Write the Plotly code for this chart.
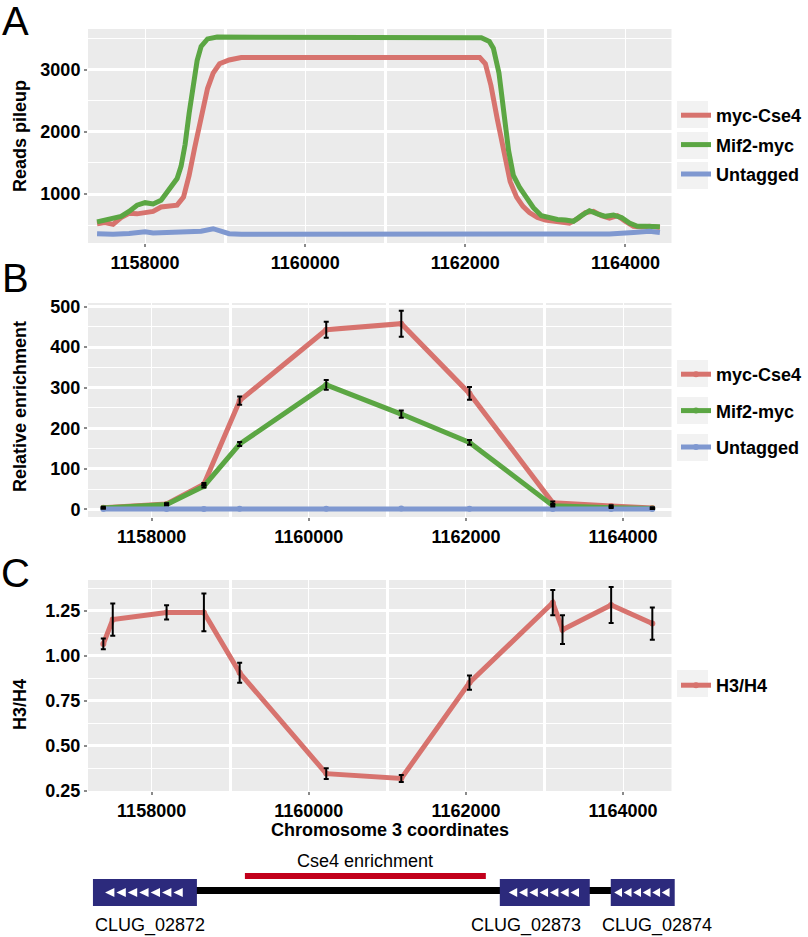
import plotly.graph_objects as go

# ---- panel A: reads pileup ----
a_red_x = [1157400, 1157500, 1157600, 1157700, 1157800, 1157900, 1158000, 1158100, 1158200, 1158300,
           1158400, 1158480, 1158550, 1158620, 1158700, 1158780, 1158850, 1158930, 1159050, 1159200,
           1160000, 1161000, 1161500, 1162000, 1162180, 1162250, 1162320, 1162400, 1162480, 1162560,
           1162640, 1162720, 1162800, 1162900, 1163000, 1163100, 1163200, 1163300, 1163400, 1163500,
           1163600, 1163700, 1163800, 1163900, 1164000, 1164100, 1164200, 1164300, 1164430]
a_red_y = [520, 540, 510, 620, 690, 680, 700, 720, 790, 810,
           820, 950, 1300, 1750, 2250, 2700, 2950, 3100, 3160, 3200,
           3200, 3200, 3195, 3200, 3200, 3100, 2750, 2200, 1650, 1200,
           950, 800, 700, 620, 580, 570, 540, 530, 600, 700,
           720, 650, 610, 650, 560, 480, 470, 480, 460]

a_green_x = [1157400, 1157500, 1157600, 1157700, 1157800, 1157900, 1158000, 1158100, 1158200, 1158300,
             1158400, 1158450, 1158500, 1158550, 1158600, 1158650, 1158700, 1158780, 1158900, 1159500,
             1160000, 1160500, 1161000, 1161500, 1162000, 1162200, 1162300, 1162350, 1162420, 1162480,
             1162540, 1162600, 1162680, 1162760, 1162850, 1162950, 1163050, 1163150, 1163250, 1163350,
             1163450, 1163550, 1163650, 1163750, 1163850, 1163950, 1164050, 1164150, 1164250, 1164350, 1164430]
a_green_y = [550, 580, 610, 640, 720, 820, 860, 840, 900, 1060,
             1250, 1450, 1800, 2300, 2800, 3150, 3380, 3500, 3530, 3530,
             3520, 3520, 3525, 3520, 3525, 3520, 3460, 3350, 2950, 2350,
             1700, 1300, 1100, 950, 780, 650, 610, 590, 580, 560,
             650, 730, 680, 640, 660, 620, 530, 480, 480, 470, 470]

a_blue_x = [1157400, 1157600, 1157800, 1158000, 1158100, 1158300, 1158500, 1158700, 1158850, 1158950,
            1159050, 1159200, 1160000, 1161000, 1161500, 1162000, 1162300, 1163000, 1163500, 1163800,
            1164100, 1164300, 1164430]
a_blue_y = [360, 350, 365, 390, 370, 380, 375, 400, 440, 410,
            360, 350, 350, 350, 355, 360, 355, 350, 365, 355,
            380, 400, 380]

# ---- panel B: relative enrichment ----
b_x = [1157385, 1158190, 1158665, 1159120, 1160222, 1161177, 1162045, 1163105, 1163848, 1164372]
b_cse4 = [4, 13, 62, 268, 443, 458, 286, 16, 8, 3]
b_cse4_err = [2, 2, 3, 10, 20, 32, 16, 3, 2, 2]
b_mif2 = [3, 12, 57, 161, 307, 235, 165, 9, 4, 2]
b_mif2_err = [1, 2, 3, 5, 12, 9, 6, 2, 1, 1]
b_untag = [0.5, 0.6, 0.8, 1.2, 1.5, 2.0, 1.5, 1.0, 0.8, 0.6]

# ---- panel C: H3/H4 ----
c_x = [1157385, 1157505, 1158190, 1158665, 1159120, 1160222, 1161177, 1162045, 1163105, 1163229,
       1163848, 1164372]
c_ratio = [1.065, 1.20, 1.24, 1.24, 0.905, 0.345, 0.318, 0.85, 1.294, 1.144, 1.281, 1.178]
c_err = [0.03, 0.09, 0.04, 0.105, 0.055, 0.03, 0.02, 0.04, 0.07, 0.08, 0.10, 0.09]

# ---- gene track (chromosome coordinates) ----
genes = ['CLUG_02872', 'CLUG_02873', 'CLUG_02874']
gene_start = [1157253, 1162431, 1163843]
gene_end = [1158576, 1163576, 1164657]
gene_label_x = [1157978, 1162762, 1164429]
gene_arrows = [7, 7, 6]
gene_arrow_step = [145, 131, 121]
locus_line = [1158563, 1163869]
cse4_region = [1159187, 1162253]

RED, GREEN, BLUE = '#D7736E', '#5BA643', '#7F98D0'
FONT = 'Liberation Sans, Arial, sans-serif'
W, H = 808, 937

fig = go.Figure()

def py(p):  # pixel row -> paper
    return 1 - p / H

dom_x = [88 / W, 671.5 / W]
rng_a = [1157287, 1164575]
rng_bc = [1157190, 1164616]

# panel A
for name, xs, ys, c in [('myc-Cse4', a_red_x, a_red_y, RED), ('Mif2-myc', a_green_x, a_green_y, GREEN),
                        ('Untagged', a_blue_x, a_blue_y, BLUE)]:
    fig.add_trace(go.Scatter(x=xs, y=ys, mode='lines', name=name, line=dict(color=c, width=5),
                             xaxis='x', yaxis='y', legend='legend', legendgroup='a' + name))

# panel B
for name, ys, c in [('myc-Cse4', b_cse4, RED), ('Mif2-myc', b_mif2, GREEN), ('Untagged', b_untag, BLUE)]:
    fig.add_trace(go.Scatter(x=b_x, y=ys, mode='lines+markers', name=name, line=dict(color=c, width=5),
                             marker=dict(color=c, size=6), xaxis='x2', yaxis='y2', legend='legend2',
                             legendgroup='b' + name))
for ys, err in [(b_cse4, b_cse4_err), (b_mif2, b_mif2_err)]:
    fig.add_trace(go.Scatter(x=b_x, y=ys, mode='markers', marker=dict(size=0.1, color='black'),
                             error_y=dict(type='data', array=err, color='black', thickness=2, width=2.5),
                             xaxis='x2', yaxis='y2', showlegend=False, hoverinfo='skip'))

# panel C
fig.add_trace(go.Scatter(x=c_x, y=c_ratio, mode='lines+markers', name='H3/H4', line=dict(color=RED, width=5),
                         marker=dict(color=RED, size=6), xaxis='x3', yaxis='y3', legend='legend3'))
fig.add_trace(go.Scatter(x=c_x, y=c_ratio, mode='markers', marker=dict(size=0.1, color='black'),
                         error_y=dict(type='data', array=c_err, color='black', thickness=2, width=2.5),
                         xaxis='x3', yaxis='y3', showlegend=False, hoverinfo='skip'))

tickfont = dict(family=FONT, size=18, color='black', weight='bold')

def xax(rng, dom_y_anchor):
    return dict(domain=dom_x, range=rng, anchor=dom_y_anchor, tick0=1158000, dtick=2000,
                showgrid=True, gridcolor='white', gridwidth=1.2, zeroline=False,
                minor=dict(tick0=1158000, dtick=1000, showgrid=True, gridcolor='white', gridwidth=2.6),
                ticks='outside', ticklen=3, tickwidth=1.5, tickcolor='#8a8a8a', tickfont=tickfont,
                showline=False, tickformat='d')

def yax(dom, rng, anchor, tick0, dtick, minor, fmt=None):
    d = dict(domain=dom, range=rng, anchor=anchor, tick0=tick0, dtick=dtick,
             showgrid=True, gridcolor='white', gridwidth=2.6, zeroline=False,
             minor=dict(tick0=tick0, dtick=minor, showgrid=True, gridcolor='white', gridwidth=1.2),
             ticks='outside', ticklen=3, tickwidth=1.5, tickcolor='#8a8a8a', tickfont=tickfont, showline=False)
    if fmt:
        d['tickformat'] = fmt
    return d

leg_font = dict(family=FONT, size=18, color='black', weight='bold')

def legend(top, gap):
    return dict(x=676 / W, y=py(top), xanchor='left', yanchor='top', bgcolor='rgba(0,0,0,0)',
                font=leg_font, itemwidth=30, traceorder='grouped', tracegroupgap=gap)

fig.update_layout(
    width=W, height=H, margin=dict(l=0, r=0, t=0, b=0, autoexpand=False),
    paper_bgcolor='white', plot_bgcolor='#EBEBEB',
    xaxis=xax(rng_a, 'y'),
    yaxis=yax([py(243), py(29)], [210, 3660], 'x', 0, 1000, 500),
    xaxis2=xax(rng_bc, 'y2'),
    yaxis2=yax([py(517), py(303)], [-19, 509], 'x2', 0, 100, 50),
    xaxis3=xax(rng_bc, 'y3'),
    yaxis3=yax([py(791), py(580)], [0.2485, 1.42], 'x3', 0.25, 0.25, 0.125, '.2f'),
    legend=legend(97, 3),
    legend2=legend(356, 10),
    legend3=legend(667, 0),
    showlegend=True,
)

# gene track axis sharing the panel C scale across the full width
bp_per_px = (rng_bc[1] - rng_bc[0]) / ((dom_x[1] - dom_x[0]) * W)
rng_g = [rng_bc[0] - dom_x[0] * W * bp_per_px, rng_bc[1] + (1 - dom_x[1]) * W * bp_per_px]
fig.update_layout(
    xaxis4=dict(domain=[0, 1], range=rng_g, anchor='y4', visible=False, fixedrange=True),
    yaxis4=dict(domain=[0, 94 / H], range=[0, 94], anchor='x4', visible=False, fixedrange=True),
)

shapes = []
# white backdrop for the gene track
shapes.append(dict(type='rect', xref='paper', yref='paper', x0=0, x1=1, y0=0, y1=94 / H,
                   fillcolor='white', line=dict(width=0), layer='below'))
# locus line
shapes.append(dict(type='line', xref='x4', yref='y4', x0=locus_line[0], x1=locus_line[1], y0=46.5, y1=46.5,
                   line=dict(color='black', width=7)))
# Cse4 enrichment bar
shapes.append(dict(type='rect', xref='x4', yref='y4', x0=cse4_region[0], x1=cse4_region[1], y0=58, y1=64,
                   fillcolor='#C2001B', line=dict(width=0)))
for s, e, n, step in zip(gene_start, gene_end, gene_arrows, gene_arrow_step):
    shapes.append(dict(type='rect', xref='x4', yref='y4', x0=s, x1=e, y0=31, y1=58,
                       fillcolor='#2C2A7C', line=dict(width=0)))
    x_start = (s + e) / 2 - step * n / 2
    for i in range(n):
        tip = x_start + i * step
        base = tip + step * 0.82
        shapes.append(dict(type='path', xref='x4', yref='y4',
                           path=f'M{tip},44.5 L{base},49 L{base},40 Z',
                           fillcolor='white', line=dict(width=0)))

# legend key backgrounds
for top in [101, 132, 162, 360, 397, 434, 670]:
    shapes.append(dict(type='rect', xref='paper', yref='paper', x0=677 / W, x1=708 / W,
                       y0=py(top + 27), y1=py(top), fillcolor='#F2F2F2', line=dict(width=0), layer='below'))
fig.update_layout(shapes=shapes)

ann = []
for t, yc in [('A', 21), ('B', 278), ('C', 573)]:
    ann.append(dict(text=t, x=15 / W, y=py(yc), xref='paper', yref='paper', showarrow=False,
                    font=dict(family=FONT, size=40, color='black'), xanchor='center', yanchor='middle'))
title_font = dict(family=FONT, size=18, color='black', weight='bold')
for t, yc in [('Reads pileup', 136), ('Relative enrichment', 407), ('H3/H4', 705)]:
    ann.append(dict(text=t, x=20 / W, y=py(yc), xref='paper', yref='paper', showarrow=False, textangle=-90,
                    font=title_font, xanchor='center', yanchor='middle'))
ann.append(dict(text='Chromosome 3 coordinates', x=390 / W, y=py(830), xref='paper', yref='paper',
                showarrow=False, font=title_font, xanchor='center', yanchor='middle'))
gfont = dict(family=FONT, size=18, color='black')
ann.append(dict(text='Cse4 enrichment', x=sum(cse4_region) / 2, y=76, xref='x4', yref='y4', showarrow=False,
                font=gfont, xanchor='center', yanchor='middle'))
for g, gx in zip(genes, gene_label_x):
    ann.append(dict(text=g, x=gx, y=12, xref='x4', yref='y4', showarrow=False, font=gfont,
                    xanchor='center', yanchor='middle'))
fig.update_layout(annotations=ann)

# page body has a default 8px margin; drop it so the 808x937 figure fills the window
fig.write_html('out.html', config={'displayModeBar': False},
               post_script="document.body.style.margin='0';")
